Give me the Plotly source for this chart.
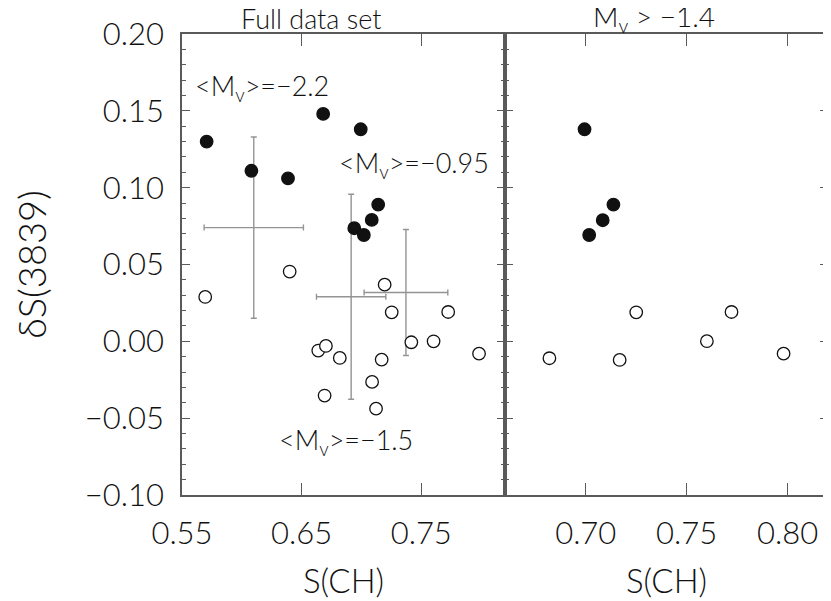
import plotly.graph_objects as go
from plotly.subplots import make_subplots

# full sample: filled = bright group, open = faint group
FILL_X = [0.5706, 0.608, 0.6386, 0.668, 0.6994, 0.714, 0.7086, 0.694, 0.702]
FILL_Y = [0.130, 0.111, 0.106, 0.148, 0.138, 0.089, 0.079, 0.0736, 0.0692]
OPEN_X = [0.5694, 0.640, 0.7194, 0.7253, 0.7725, 0.6639, 0.6703, 0.6819,
          0.7169, 0.7417, 0.7603, 0.7983, 0.7089, 0.6692, 0.7122]
OPEN_Y = [0.0289, 0.0454, 0.0369, 0.0189, 0.0191, -0.006, -0.003, -0.0108,
          -0.0119, -0.0006, 0.0, -0.008, -0.0264, -0.0353, -0.0438]

# M_v > -1.4 subset
SUB_FILL_X = [0.6994, 0.7137, 0.7084, 0.7017]
SUB_FILL_Y = [0.138, 0.089, 0.0788, 0.0692]
SUB_OPEN_X = [0.682, 0.7168, 0.725, 0.760, 0.7722, 0.798]
SUB_OPEN_Y = [-0.011, -0.0121, 0.0189, 0.0001, 0.0191, -0.008]

# group means with dispersions
MEAN_X = [0.610, 0.6914, 0.7372]
MEAN_Y = [0.074, 0.029, 0.0318]
MEAN_XERR = [0.0415, 0.029, 0.035]
MEAN_YERR = [0.059, 0.0667, 0.041]

LABEL_X = [0.6167, 0.744, 0.6875]
LABEL_Y = [0.165, 0.115, -0.065]
LABEL_TXT = ["&lt;M<sub>v</sub>&gt;=\u22122.2", "&lt;M<sub>v</sub>&gt;=\u22120.95",
             "&lt;M<sub>v</sub>&gt;=\u22121.5"]

FONT = "Lato, 'Open Sans', sans-serif"
INK = "#111111"
FRAME = "#5a5a5a"
GREY = "#949494"

def f(size):
    return dict(size=size, color=INK, family=FONT, weight=300)

fig = make_subplots(rows=1, cols=2, shared_yaxes=True, horizontal_spacing=0)

fig.add_trace(go.Scatter(
    x=MEAN_X, y=MEAN_Y, mode="markers", marker=dict(size=1, color=GREY),
    error_x=dict(type="data", array=MEAN_XERR, color=GREY, thickness=1.4, width=3),
    error_y=dict(type="data", array=MEAN_YERR, color=GREY, thickness=1.4, width=3),
    showlegend=False), row=1, col=1)

def dots(xs, ys, filled, col):
    fig.add_trace(go.Scatter(
        x=xs, y=ys, mode="markers", showlegend=False,
        marker=dict(size=12.5, color=INK if filled else "white",
                    line=dict(width=1.3, color=INK))), row=1, col=col)

dots(FILL_X, FILL_Y, True, 1)
dots(OPEN_X, OPEN_Y, False, 1)
dots(SUB_FILL_X, SUB_FILL_Y, True, 2)
dots(SUB_OPEN_X, SUB_OPEN_Y, False, 2)

for x, y, t in zip(LABEL_X, LABEL_Y, LABEL_TXT):
    fig.add_annotation(x=x, y=y, xref="x", yref="y", text=t, showarrow=False,
                       font=f(27))

fig.add_annotation(x=0.20, y=1.0, xref="paper", yref="paper", yshift=16,
                   text="Full data set", showarrow=False, xanchor="center",
                   yanchor="middle", font=f(27))
fig.add_annotation(x=0.73, y=1.0, xref="paper", yref="paper", yshift=16,
                   text="M<sub>v</sub> &gt; \u22121.4", showarrow=False,
                   xanchor="center", yanchor="middle", font=f(28))

ax_common = dict(showline=True, linecolor=FRAME, linewidth=1.6, mirror="ticks",
                 ticks="inside", tickcolor=FRAME, showgrid=False, zeroline=False,
                 tickfont=f(31), ticklen=12, ticklabelstandoff=10,
                 title=dict(text="S(CH)", standoff=20, font=f(33)))

fig.update_xaxes(range=[0.55, 0.82], tickvals=[0.55, 0.65, 0.75],
                 ticktext=["0.55", "0.65", "0.75"], row=1, col=1, **ax_common)
fig.update_xaxes(range=[0.66, 0.82], tickvals=[0.70, 0.75, 0.80],
                 ticktext=["0.70", "0.75", "0.80"], row=1, col=2, **ax_common)

y_common = dict(range=[-0.10, 0.20], dtick=0.05, tickformat=".2f", ticklen=8,
                showline=True, linecolor=FRAME, linewidth=1.6, mirror="ticks",
                ticks="inside", tickcolor=FRAME, showgrid=False, zeroline=False,
                minor=dict(dtick=0.01, ticks="inside", ticklen=4, tickcolor=FRAME),
                tickfont=f(31), ticklabelstandoff=10)
fig.update_yaxes(row=1, col=1, **y_common,
                 title=dict(text="\u03b4S(3839)", standoff=48, font=f(38)))
fig.update_yaxes(row=1, col=2, showticklabels=False, **y_common)

# the page has an 8 px body margin, so the figure is shrunk to fit the window
fig.update_layout(width=823, height=593, margin=dict(l=174, r=1, t=26, b=106),
                  plot_bgcolor="white", paper_bgcolor="white",
                  font=dict(family=FONT, color=INK))

fig.write_html("out.html")
